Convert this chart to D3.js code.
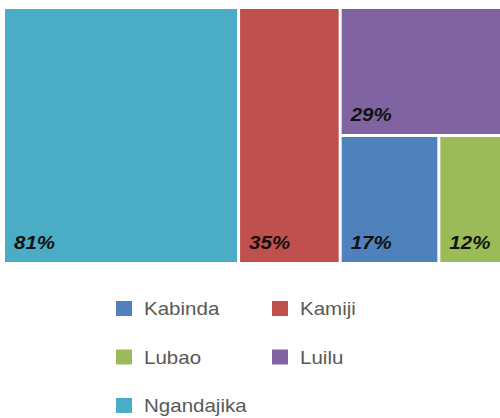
<!DOCTYPE html>
<html>
<head>
<meta charset="utf-8">
<script src="https://cdn.jsdelivr.net/npm/d3@7"></script>
<style>
  body { margin: 0; background: #fff; }
  svg { display: block; }
</style>
</head>
<body>
<svg id="treemap-vis" width="500" height="418"></svg>
<script>
// chart data
const regions = ["Kabinda", "Kamiji", "Lubao", "Luilu", "Ngandajika"];
const shares = [17, 35, 12, 29, 81];
const colors = ["#4F81BD", "#C0504D", "#9BBB59", "#8064A2", "#4BACC6"];

const svg = d3.select("svg#treemap-vis");
const bounds = { minX: 5, maxX: 507, minY: 9, maxY: 262 };
const stretch = 1.14; // the reference text is a bit wide

const color = d3.scaleOrdinal().domain(regions).range(colors);

let root = d3.hierarchy({ children: regions.map((r, i) => ({ name: r, value: shares[i] })) })
    .sum(d => d.value || 0)
    .sort((a, b) => b.value - a.value);

d3.treemap()
    .tile(d3.treemapBinary)
    .size([bounds.maxX - bounds.minX, bounds.maxY - bounds.minY])
    .paddingInner(3)(root);

let cells = svg.append("g")
    .attr("transform", `translate(${bounds.minX} ${bounds.minY})`)
    .selectAll("g")
    .data(root.leaves())
    .join("g");

cells.append("rect")
    .attr("x", d => d.x0)
    .attr("y", d => d.y0)
    .attr("width", d => d.x1 - d.x0)
    .attr("height", d => d.y1 - d.y0)
    .attr("fill", d => color(d.data.name));

cells.append("text")
    .attr("transform", d => `translate(${d.x0 + 9} ${d.y1 - 13}) scale(${stretch} 1)`)
    .attr("font-family", "Liberation Sans, Arial, sans-serif")
    .attr("font-size", 18)
    .attr("font-weight", "bold")
    .attr("font-style", "italic")
    .attr("fill", "#111")
    .text(d => d.data.value + "%");

// legend, two columns
let legend = svg.append("g")
    .selectAll("g")
    .data(regions)
    .join("g")
    .attr("transform", (d, i) => `translate(${116 + (i % 2) * 156} ${301 + Math.floor(i / 2) * 48.5})`);

legend.append("rect")
    .attr("width", 16)
    .attr("height", 15)
    .attr("fill", d => color(d));

legend.append("text")
    .attr("transform", `translate(28 14) scale(${stretch} 1)`)
    .attr("font-family", "Liberation Sans, Arial, sans-serif")
    .attr("font-size", 18)
    .attr("fill", "#595959")
    .text(d => d);
</script>
</body>
</html>
